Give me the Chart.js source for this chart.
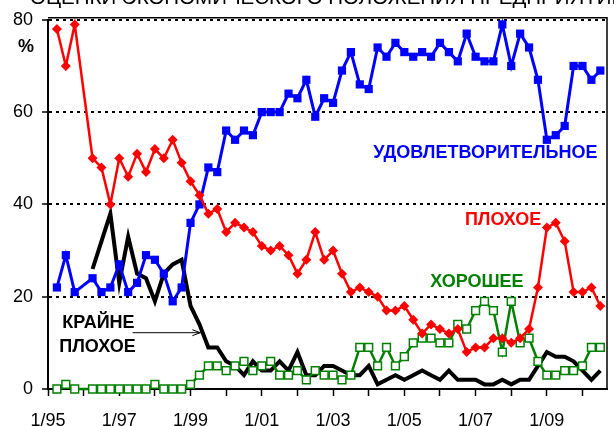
<!DOCTYPE html>
<html>
<head>
<meta charset="utf-8">
<script src="https://cdn.jsdelivr.net/npm/chart.js@4"></script>
<style>
  html, body { margin: 0; padding: 0; background: #fff; }
  #chart { display: block; }
</style>
</head>
<body>
<canvas id="chart" width="614" height="426"></canvas>
<script>
// x = quarters counted from 1/95 (0 = January 1995), one survey per quarter
const quarters = Array.from({ length: 62 }, (_, i) => i + 1);

const satisfactory = [22, 29, 21, null, 24, 21, 22, 27, 21, 23, 29, 28, 25, 19, 22, 36,
  40, 48, 47, 56, 54, 56, 55, 60, 60, 60, 64, 63, 67, 59, 63, 62,
  69, 73, 66, 65, 74, 72, 75, 73, 72, 73, 72, 75, 73, 71, 77, 72,
  71, 71, 79, 70, 77, 74, 67, 54, 55, 57, 70, 70, 67, 69];
const bad = [78, 70, 79, null, 50, 48, 40, 50, 46, 51, 47, 52, 50, 54, 49, 45,
  42, 38, 39, 34, 36, 35, 34, 31, 30, 31, 29, 25, 28, 34, 28, 30,
  25, 21, 22, 21, 20, 17, 17, 18, 15, 12, 14, 13, 12, 13, 8, 9,
  9, 11, 11, 10, 11, 13, 22, 35, 36, 32, 21, 21, 22, 18];
const good = [0, 1, 0, null, 0, 0, 0, 0, 0, 0, 0, 1, 0, 0, 0, 1,
  3, 5, 5, 4, 5, 6, 4, 5, 6, 3, 3, 4, 2, 4, 3, 3,
  2, 3, 9, 9, 5, 9, 5, 7, 10, 11, 11, 10, 10, 14, 13, 17,
  19, 17, 8, 19, 10, 11, 6, 3, 3, 4, 4, 5, 9, 9];
const veryBad = [null, null, null, null, 26, 32, 38, 23, 33, 25, 24, 19, 25, 27, 28, 18,
  14, 9, 9, 6, 5, 3, 6, 4, 4, 6, 4, 8, 3, 3, 5, 5,
  4, 3, 3, 5, 1, 2, 3, 2, 3, 4, 3, 2, 4, 2, 2, 2,
  1, 1, 2, 1, 2, 2, 5, 8, 7, 7, 6, 4, 2, 4];

const yearLabels = ['1/95', '1/97', '1/99', '1/01', '1/03', '1/05', '1/07', '1/09'];
const yTicks = [0, 20, 40, 60, 80];

const FONT = '"Liberation Sans", Arial, sans-serif';
const BLUE = '#0000ff', RED = '#ff0000', GREEN = '#008000';

function pts(values) {
  return quarters.map((q, i) => ({ x: q, y: values[i] }));
}

// text labels placed in data units (quarter, percent)
const notes = [
  { lines: ['УДОВЛЕТВОРИТЕЛЬНОЕ'], x: 36.5, y: 51.1, color: BLUE },
  { lines: ['ПЛОХОЕ'], x: 46.8, y: 36.7, color: RED },
  { lines: ['ХОРОШЕЕ'], x: 42.9, y: 23.1, color: GREEN },
  { lines: ['КРАЙНЕ', 'ПЛОХОЕ'], x: 1.6, y: 14.3, color: '#000' }
];

const decorations = {
  id: 'decorations',
  afterDraw(chart) {
    const { ctx, chartArea: a, scales: { x, y } } = chart;
    ctx.save();
    // frame top/right
    ctx.strokeStyle = '#000';
    ctx.lineWidth = 1.5;
    ctx.setLineDash([]);
    ctx.beginPath();
    ctx.moveTo(a.left, a.top - 2);
    ctx.lineTo(a.right, a.top - 2);
    ctx.lineTo(a.right, a.bottom);
    ctx.stroke();

    // title, cut off by the top edge
    ctx.fillStyle = '#000';
    ctx.font = '20.5px ' + FONT;
    ctx.textBaseline = 'alphabetic';
    ctx.textAlign = 'left';
    ctx.fillText('ОЦЕНКИ ЭКОНОМИЧЕСКОГО ПОЛОЖЕНИЯ ПРЕДПРИЯТИЙ', 30, 3.5);

    // "%" sign
    ctx.font = 'bold 18px ' + FONT;
    ctx.textAlign = 'center';
    ctx.textBaseline = 'middle';
    ctx.fillText('%', 26, 47);

    // series labels
    ctx.font = 'bold 18px ' + FONT;
    ctx.textAlign = 'left';
    notes.forEach(n => {
      ctx.fillStyle = n.color;
      n.lines.forEach((t, i) => {
        ctx.fillText(t, x.getPixelForValue(n.x) - (i ? 3 : 0), y.getPixelForValue(n.y) + i * 24);
      });
    });

    // arrow to the "very bad" line
    const ax0 = x.getPixelForValue(9.5), ax1 = x.getPixelForValue(17.1);
    const ay = y.getPixelForValue(12.2);
    ctx.strokeStyle = '#000';
    ctx.lineWidth = 1;
    ctx.beginPath();
    ctx.moveTo(ax0, ay);
    ctx.lineTo(ax1, ay);
    ctx.moveTo(ax1 - 8, ay - 3);
    ctx.lineTo(ax1, ay);
    ctx.lineTo(ax1 - 8, ay + 3);
    ctx.stroke();
    ctx.restore();
  }
};

new Chart(document.getElementById('chart'), {
  type: 'line',
  data: {
    datasets: [
      {
        label: 'ПЛОХОЕ', data: pts(bad),
        borderColor: RED, backgroundColor: RED, borderWidth: 2.5,
        pointStyle: 'rectRot', pointRadius: 5, pointBorderWidth: 0, pointBackgroundColor: RED
      },
      {
        label: 'УДОВЛЕТВОРИТЕЛЬНОЕ', data: pts(satisfactory),
        borderColor: BLUE, backgroundColor: BLUE, borderWidth: 3,
        pointStyle: 'rect', pointRadius: 5.8, pointBorderWidth: 0, pointBackgroundColor: BLUE
      },
      {
        label: 'ХОРОШЕЕ', data: pts(good),
        borderColor: GREEN, backgroundColor: '#fff', borderWidth: 2.5,
        pointStyle: 'rect', pointRadius: 5.5, pointBorderWidth: 1.5,
        pointBorderColor: GREEN, pointBackgroundColor: '#fff'
      },
      {
        label: 'КРАЙНЕ ПЛОХОЕ', data: pts(veryBad),
        borderColor: '#000', borderWidth: 4, pointRadius: 0
      }
    ]
  },
  options: {
    responsive: false,
    animation: false,
    devicePixelRatio: 1,
    spanGaps: true,
    clip: false,
    elements: { line: { tension: 0, borderJoinStyle: 'miter' } },
    layout: { padding: { top: 19, right: 3, left: 0, bottom: 0 } },
    plugins: { legend: { display: false }, tooltip: { enabled: false } },
    scales: {
      x: {
        type: 'linear',
        min: 0,
        max: 62.75,
        afterFit: s => { s.height = 37; },
        ticks: {
          stepSize: 4,
          autoSkip: false,
          includeBounds: false,
          maxRotation: 0,
          padding: 14,
          color: '#000',
          font: { family: FONT, size: 18 },
          callback: v => (v % 8 === 0 ? yearLabels[v / 8] : '')
        },
        grid: {
          drawOnChartArea: false,
          drawTicks: true,
          tickLength: 7,
          tickColor: '#000',
          tickWidth: 1.5
        },
        border: { display: true, color: '#000', width: 2 }
      },
      y: {
        min: 0,
        max: 80,
        afterFit: s => { s.width = 48; },
        afterBuildTicks: s => { s.ticks = yTicks.map(v => ({ value: v })); },
        ticks: {
          padding: 9,
          color: '#000',
          font: { family: FONT, size: 18 }
        },
        grid: {
          color: c => (c.tick && c.tick.value === 0 ? 'rgba(0,0,0,0)' : '#000'),
          lineWidth: 2,
          drawTicks: true,
          tickLength: 6,
          tickColor: '#000',
          tickWidth: 1.5,
          tickBorderDash: []
        },
        border: { display: true, color: '#000', width: 2, dash: [3, 4] }
      }
    }
  },
  plugins: [decorations]
});
</script>
</body>
</html>
